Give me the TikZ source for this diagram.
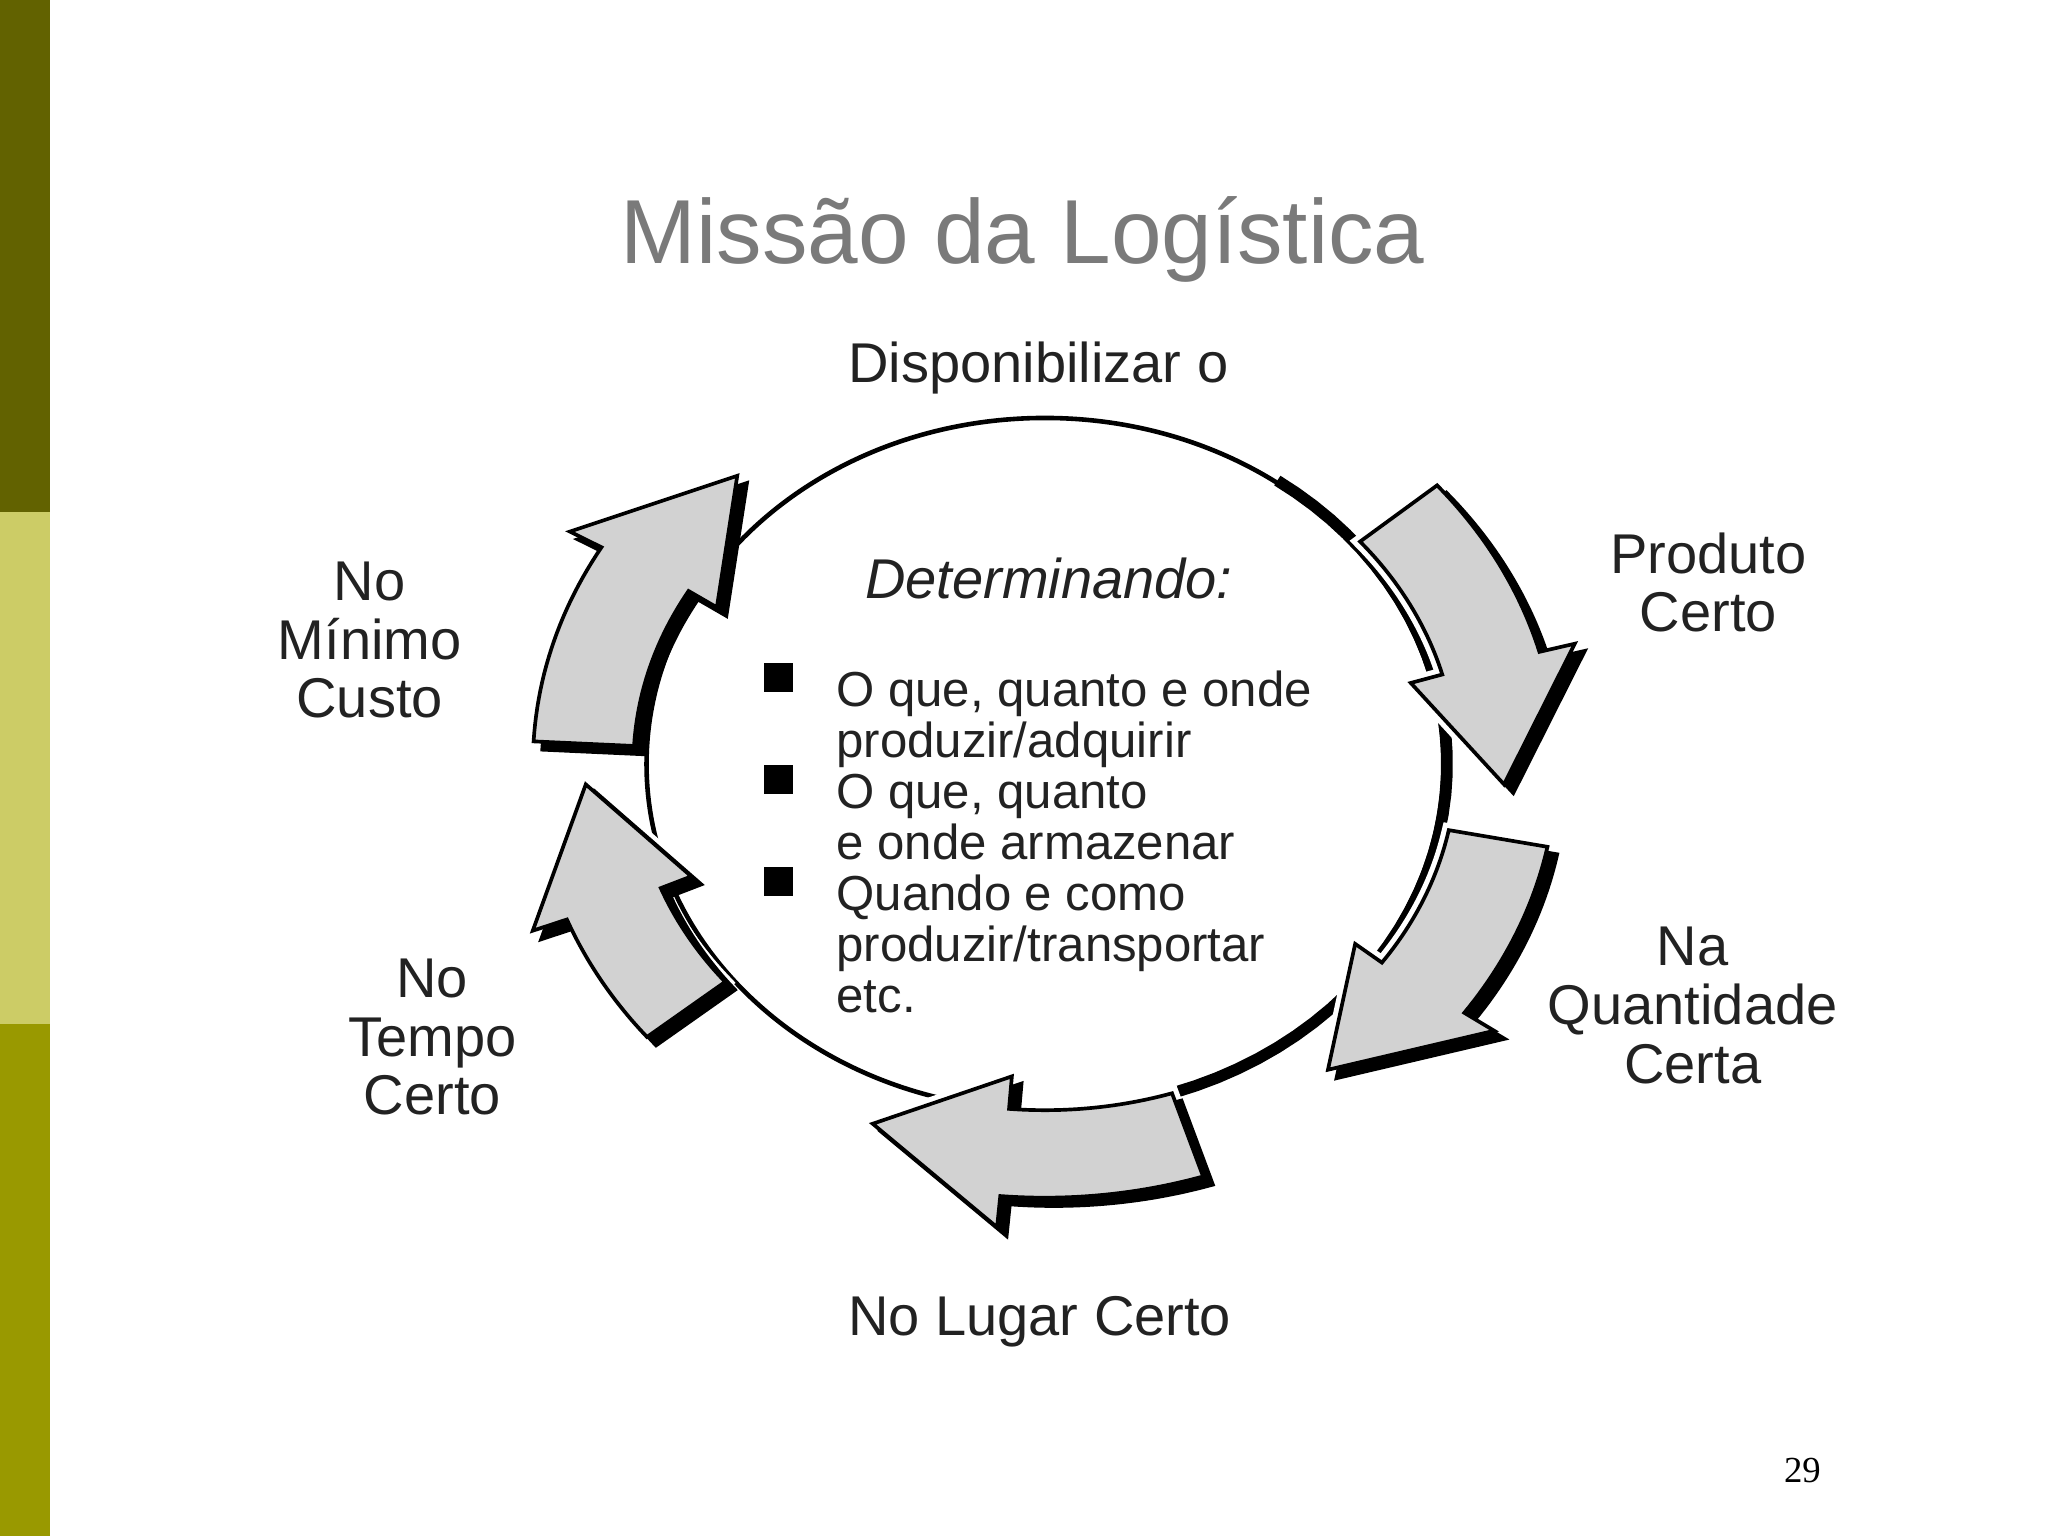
\documentclass[tikz,border=0pt]{standalone}
\usepackage{fontspec}
\setmainfont{Liberation Sans}
\newfontfamily\pagenumfont{Liberation Serif}
\definecolor{bardark}{HTML}{626200}
\definecolor{barlight}{HTML}{CCCC66}
\definecolor{barmid}{HTML}{999900}
\definecolor{arrowgray}{HTML}{D2D2D2}
\definecolor{titlegray}{HTML}{7A7A7A}
\definecolor{labelink}{HTML}{222222}
% curved block arrow around the ellipse: style, start angle, head base, tip
\newcommand{\logarrow}[4]{%
  \path[#1] plot[domain=#2:#3,samples=25] ({315*cos(\x)},{265*sin(\x)})
    -- ({290*cos(#3)},{240*sin(#3)}) -- ({352*cos(#4)},{297*sin(#4)})
    -- ({420*cos(#3)},{356*sin(#3)})
    -- plot[domain=#3:#2,samples=25] ({392*cos(\x)},{332*sin(\x)}) -- cycle;}
\tikzset{
  label/.style={font=\fontsize{12.2}{12.8}\selectfont, text=labelink, align=center},
  item/.style={font=\fontsize{10.7}{11.1}\selectfont, text=labelink, align=left, anchor=north west},
  bullet/.style={fill=black, minimum size=0.22cm, inner sep=0pt},
  halo/.style={draw=white, line width=3pt},
  block/.style={fill=arrowgray, draw=black, line width=0.8pt, line join=miter}
}
\begin{document}
\begin{tikzpicture}[x=0.01cm,y=-0.01cm]
  \useasboundingbox (0,0) rectangle (1568,1176);
  \fill[bardark] (0,0) rectangle (38,392);
  \fill[barlight] (0,392) rectangle (38,784);
  \fill[barmid] (0,784) rectangle (38,1176);

  \node[font=\fontsize{19.8}{24}\selectfont, text=titlegray] (title) at (783,183) {Missão da Logística};

  % central ellipse
  \draw[line width=1pt] (800,585) ellipse [x radius=305, y radius=265];
  \draw[line width=2.5pt] plot[domain=-55:75,samples=40] ({803+305*cos(\x)},{585+265*sin(\x)});

  % the five arrows
  \begin{scope}[shift={(800,585)}]
    \foreach \a/\b/\c in {-40/-15/3, 11/35/52, 72/95/112, 141/159/177, 183/210/228} {
      \logarrow{halo}{\a}{\b}{\c}
      \begin{scope}[shift={(7,6)}]
        \logarrow{fill=black,draw=black,line width=1pt}{\a}{\b}{\c}
      \end{scope}
      \logarrow{block}{\a}{\b}{\c}
    }
  \end{scope}

  \node[font=\fontsize{12.2}{14}\selectfont\itshape, text=labelink] (determ) at (803,443) {Determinando:};
  \node[bullet] (b1) at (596,519) {};
  \node[bullet] (b2) at (596,597) {};
  \node[bullet] (b3) at (596,675) {};
  \node[item] (t1) at (628,501) {O que, quanto e onde\\produzir/adquirir\\O que, quanto\\e onde armazenar\\Quando e como\\produzir/transportar\\etc.};

  \node[label] (top) at (795,282) {Disponibilizar o};
  \node[label] (prod) at (1308,446) {Produto\\Certo};
  \node[label] (quant) at (1296,770) {Na\\Quantidade\\Certa};
  \node[label] (lugar) at (796,1012) {No Lugar Certo};
  \node[label] (tempo) at (331,794) {No\\Tempo\\Certo};
  \node[label] (custo) at (283,490) {No\\Mínimo\\Custo};

  \node[font=\fontsize{8}{10}\pagenumfont] (page) at (1380,1126) {29};
\end{tikzpicture}
\end{document}
